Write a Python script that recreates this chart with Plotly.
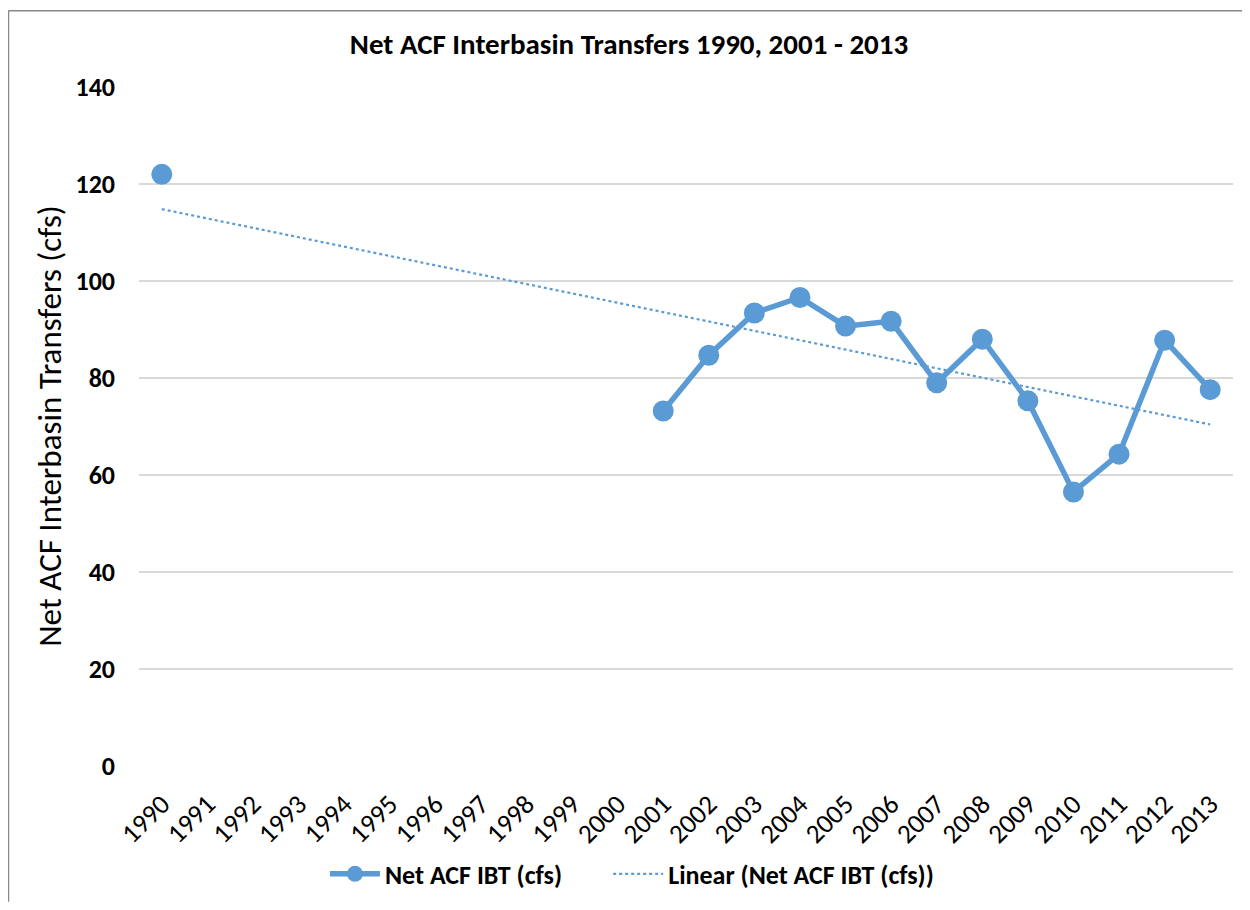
import numpy as np
import plotly.graph_objects as go

years = [str(y) for y in range(1990, 2014)]
ibt_values = [122.0, None, None, None, None, None, None, None, None, None, None,
              73.2, 84.7, 93.4, 96.6, 90.7, 91.7, 79.0, 88.0, 75.3, 56.5, 64.3, 87.8, 77.6]
y_ticks = [0, 20, 40, 60, 80, 100, 120, 140]

# Linear trendline (Excel style: x = 1..n category index, fit on available points)
xi = np.array([i + 1 for i, v in enumerate(ibt_values) if v is not None], dtype=float)
yi = np.array([v for v in ibt_values if v is not None], dtype=float)
slope, intercept = np.polyfit(xi, yi, 1)
trend_x = [years[0], years[-1]]
trend_y = [slope * 1 + intercept, slope * len(years) + intercept]

BLUE = "#5b9bd5"
FONT = "Carlito, Calibri, Lato, sans-serif"
GAP = "&nbsp;" * 7

fig = go.Figure()
fig.add_trace(go.Scatter(
    x=years, y=ibt_values, mode="lines+markers", name="<b>Net ACF IBT (cfs)</b>" + GAP,
    line=dict(color=BLUE, width=5.5), marker=dict(color=BLUE, size=21),
    connectgaps=False))
fig.add_trace(go.Scatter(
    x=trend_x, y=trend_y, mode="lines", name="<b>Linear (Net ACF IBT (cfs))</b>",
    line=dict(color=BLUE, width=2.2, dash="dot")))

fig.update_layout(
    width=1242, height=902,
    margin=dict(l=131, r=17, t=79, b=137),
    paper_bgcolor="white", plot_bgcolor="white",
    font=dict(family=FONT, color="black"),
    title=dict(text="<b>Net ACF Interbasin Transfers 1990, 2001 - 2013</b>",
               x=0.5, xanchor="center", y=0.960, yanchor="middle",
               font=dict(size=29, family=FONT, color="black")),
    showlegend=True,
    legend=dict(orientation="h", x=0.4506, xanchor="center", y=-0.159, yanchor="middle",
                font=dict(size=26, family=FONT, color="black"),
                itemwidth=50, tracegroupgap=0),
    xaxis=dict(type="category", categoryorder="array", categoryarray=years,
               range=[-0.5, len(years) - 0.5], automargin=False,
               tickangle=-45, tickfont=dict(size=27, family=FONT, color="black"),
               ticklabelstandoff=16,
               showgrid=False, showline=False, ticks="", zeroline=False),
    yaxis=dict(range=[0, 140], tickvals=y_ticks, ticktext=[f"<b>{v}</b>" for v in y_ticks],
               tickfont=dict(size=26, family=FONT, color="black"), automargin=False,
               showgrid=True, gridcolor="#d9d9d9", gridwidth=1.5,
               zeroline=False, showline=False, ticks="", ticklabelstandoff=23),
    annotations=[
        dict(text="Net ACF Interbasin Transfers (cfs)", xref="paper", yref="paper",
             x=-0.0814, y=0.501, xanchor="center", yanchor="middle", textangle=-90,
             showarrow=False, font=dict(size=33, family=FONT, color="black")),
    ],
    shapes=[
        dict(type="line", xref="paper", yref="paper", x0=-0.1193, x1=-0.1193, y0=-0.2, y1=1.1122,
             line=dict(color="#888888", width=1.5)),
        dict(type="line", xref="paper", yref="paper", x0=-0.1193, x1=1.02, y0=1.1122, y1=1.1122,
             line=dict(color="#888888", width=1.5)),
    ],
)

fig.write_html("out.html")
